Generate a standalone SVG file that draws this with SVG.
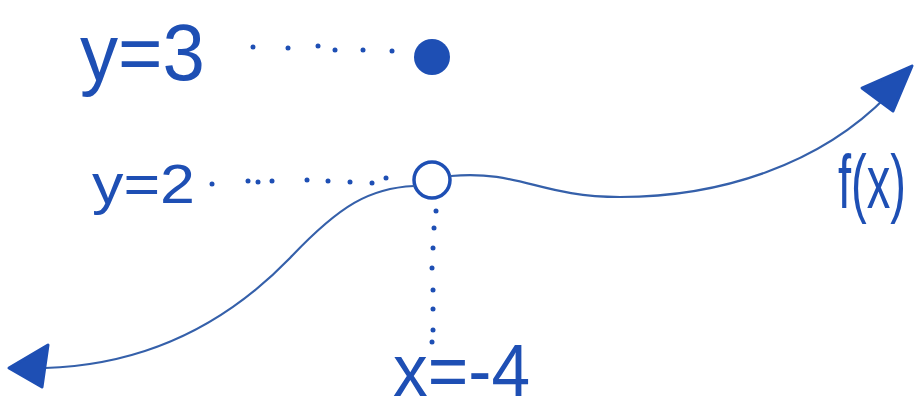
<svg xmlns="http://www.w3.org/2000/svg" width="917" height="415" viewBox="0 0 917 415">
<style>
.lbl{font-family:"Liberation Sans","DejaVu Sans",sans-serif;fill:#1e4fb4;}
.curve{fill:none;stroke:#3560aa;stroke-width:2.2;stroke-linecap:round;}
.dot{fill:#1e4fb4;}
.head{fill:#1e4fb4;stroke:#1e4fb4;stroke-width:3;stroke-linejoin:round;}
</style>
<rect width="917" height="415" fill="#ffffff"/>
<g id="label-y3"><text class="lbl" x="80" y="80" font-size="80" textLength="125" lengthAdjust="spacingAndGlyphs">y=3</text></g>
<g id="label-y2"><text class="lbl" x="92" y="203" font-size="56" textLength="103" lengthAdjust="spacingAndGlyphs">y=2</text></g>
<g id="label-fx"><text class="lbl" transform="translate(838,208) scale(0.62,1)" x="0" y="0" font-size="76">f(x)</text></g>
<g id="label-x"><text class="lbl" x="393" y="396" font-size="75" textLength="137" lengthAdjust="spacingAndGlyphs">x=-4</text></g>
<g id="filled-point"><circle cx="432" cy="57" r="18" fill="#1e4fb4"/></g>
<g id="open-point"><circle cx="432" cy="180" r="18" fill="none" stroke="#1e4fb4" stroke-width="3.5"/></g>
<g id="connectors">
<g id="dots-y3">
<circle class="dot" cx="253" cy="47" r="2.5"/><circle class="dot" cx="288" cy="48" r="2.5"/><circle class="dot" cx="318" cy="46" r="2.5"/><circle class="dot" cx="335" cy="50" r="2.5"/><circle class="dot" cx="363" cy="50" r="2.5"/><circle class="dot" cx="392" cy="51" r="2.5"/>
</g>
<g id="dots-y2">
<circle class="dot" cx="212" cy="184" r="2.5"/><circle class="dot" cx="248" cy="181" r="2.5"/><circle class="dot" cx="258" cy="182" r="2.5"/><circle class="dot" cx="272" cy="181" r="2.5"/><circle class="dot" cx="307" cy="180" r="2.5"/><circle class="dot" cx="328" cy="181" r="2.5"/><circle class="dot" cx="350" cy="182" r="2.5"/><circle class="dot" cx="372" cy="183" r="2.5"/><circle class="dot" cx="386" cy="178" r="2.5"/>
</g>
<g id="dots-x">
<circle class="dot" cx="436" cy="211" r="2.5"/><circle class="dot" cx="434" cy="228" r="2.5"/><circle class="dot" cx="433" cy="248" r="2.5"/><circle class="dot" cx="432" cy="268" r="2.5"/><circle class="dot" cx="433" cy="290" r="2.5"/><circle class="dot" cx="433" cy="309" r="2.5"/><circle class="dot" cx="433" cy="330" r="2.5"/><circle class="dot" cx="432" cy="342" r="2.5"/>
</g>
<path id="curve-left" class="curve" d="M45,368 C150,365 230,320 290,258 C340,205 370,188 414,186"/>
<path id="curve-right" class="curve" d="M451,176 C520,170 540,197 620,197 C720,197 820,165 888,95"/>
<polygon class="head" points="9,368 48,345 42,387"/>
<polygon class="head" points="912,66 862,88 893,111"/>
</g>
</svg>
